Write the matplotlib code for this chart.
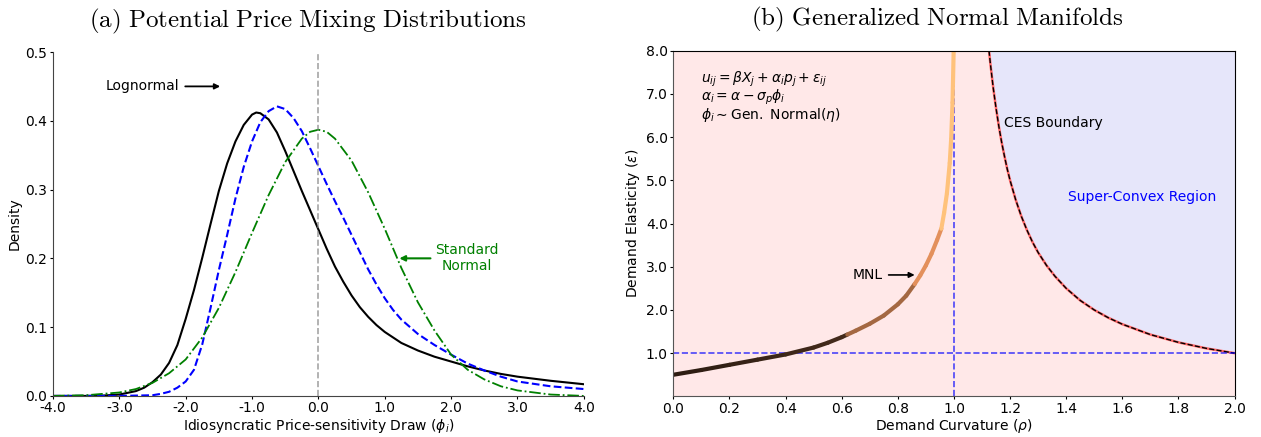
import matplotlib
matplotlib.use("Agg")
import matplotlib.pyplot as plt
import numpy as np
from matplotlib.collections import LineCollection

# ---- panel (a): mixing densities ----
logn_x = [-4.0, -3.5, -3.25, -3.0, -2.75, -2.625, -2.5, -2.375, -2.25, -2.125, -2.0, -1.875,
          -1.75, -1.625, -1.5, -1.375, -1.25, -1.125, -1.0, -0.9375, -0.875, -0.75, -0.625,
          -0.5, -0.375, -0.25, -0.125, 0.0, 0.125, 0.25, 0.375, 0.5, 0.625, 0.75, 0.875, 1.0,
          1.25, 1.5, 1.75, 2.0, 2.25, 2.5, 2.75, 3.0, 3.5, 4.0]
logn_y = [0.000, 0.000, 0.0005, 0.002, 0.007, 0.012, 0.020, 0.031, 0.048, 0.074, 0.112, 0.154,
          0.201, 0.250, 0.298, 0.338, 0.370, 0.394, 0.409, 0.412, 0.411, 0.402, 0.383,
          0.356, 0.327, 0.298, 0.270, 0.242, 0.214, 0.188, 0.166, 0.146, 0.129, 0.115, 0.103,
          0.093, 0.077, 0.066, 0.057, 0.050, 0.043, 0.037, 0.032, 0.028, 0.022, 0.017]

gen_x = [-4.0, -3.0, -2.5, -2.375, -2.25, -2.125, -2.0, -1.875, -1.75, -1.625, -1.5, -1.375,
         -1.25, -1.125, -1.0, -0.875, -0.75, -0.625, -0.5, -0.375, -0.25, -0.125, 0.0, 0.125,
         0.25, 0.375, 0.5, 0.625, 0.75, 0.875, 1.0, 1.125, 1.25, 1.5, 1.75, 2.0, 2.25, 2.5,
         2.75, 3.0, 3.5, 4.0]
gen_y = [0.000, 0.000, 0.001, 0.003, 0.006, 0.012, 0.021, 0.038, 0.075, 0.128, 0.183, 0.234,
         0.287, 0.333, 0.370, 0.398, 0.414, 0.421, 0.417, 0.404, 0.385, 0.360, 0.334, 0.308,
         0.283, 0.259, 0.234, 0.209, 0.184, 0.162, 0.142, 0.125, 0.111, 0.090, 0.074, 0.060,
         0.047, 0.037, 0.028, 0.021, 0.014, 0.010]

norm_x = [-4.0, -3.5, -3.0, -2.75, -2.5, -2.25, -2.0, -1.75, -1.5, -1.25, -1.0, -0.75, -0.5,
          -0.25, -0.125, 0.0, 0.125, 0.25, 0.5, 0.75, 1.0, 1.25, 1.5, 1.75, 2.0, 2.25, 2.5,
          2.75, 3.0, 3.5, 4.0]
norm_y = [0.000, 0.001, 0.005, 0.010, 0.019, 0.033, 0.053, 0.085, 0.128, 0.180, 0.237, 0.292,
          0.340, 0.374, 0.384, 0.387, 0.384, 0.374, 0.342, 0.296, 0.243, 0.186, 0.136, 0.095,
          0.060, 0.038, 0.024, 0.014, 0.008, 0.002, 0.000]

a_xticks = [-4.0, -3.0, -2.0, -1.0, 0.0, 1.0, 2.0, 3.0, 4.0]
a_yticks = [0.0, 0.1, 0.2, 0.3, 0.4, 0.5]

# ---- panel (b): manifolds ----
mnl_rho = [0.0, 0.1, 0.2, 0.3, 0.4, 0.5, 0.55, 0.6, 0.62, 0.65, 0.7, 0.75, 0.8, 0.83, 0.86,
           0.88, 0.9, 0.92, 0.94, 0.955, 0.965, 0.975, 0.985, 0.99, 0.995, 0.999]
mnl_eps = [0.50, 0.61, 0.73, 0.85, 0.97, 1.13, 1.24, 1.37, 1.43, 1.52, 1.68, 1.87, 2.13, 2.33,
           2.60, 2.80, 3.03, 3.30, 3.62, 3.88, 4.25, 4.70, 5.40, 5.95, 6.80, 8.0]
# colour bands along the MNL curve (upper rho of each band, copper level)
band_top = [0.62, 0.86, 0.955, 1.0]
band_level = [0.22, 0.52, 0.72, 0.97]

ces_rho = [1.125, 1.13, 1.14, 1.15, 1.16, 1.17, 1.18, 1.19, 1.2, 1.22, 1.24, 1.26, 1.28, 1.3,
           1.33, 1.36, 1.4, 1.45, 1.5, 1.55, 1.6, 1.7, 1.8, 1.9, 2.0]
ces_eps = [8.0, 7.69, 7.14, 6.67, 6.25, 5.88, 5.56, 5.26, 5.0, 4.55, 4.17, 3.85, 3.57, 3.33,
           3.03, 2.78, 2.5, 2.22, 2.0, 1.82, 1.67, 1.43, 1.25, 1.11, 1.0]

b_xticks = [0.0, 0.2, 0.4, 0.6, 0.8, 1.0, 1.2, 1.4, 1.6, 1.8, 2.0]
b_yticks = [1.0, 2.0, 3.0, 4.0, 5.0, 6.0, 7.0, 8.0]

fig = plt.figure(figsize=(12.61, 4.37), dpi=100)
ax1 = fig.add_axes([0.042, 0.094, 0.421, 0.787])
ax2 = fig.add_axes([0.534, 0.093, 0.445, 0.791])

# (a)
ax1.plot(logn_x, logn_y, color='black', lw=1.5)
ax1.plot(gen_x, gen_y, color='blue', lw=1.5, ls='--')
ax1.plot(norm_x, norm_y, color='green', lw=1.3, ls='-.')
ax1.axvline(0, color='gray', alpha=0.7, ls='--', lw=1.2)
ax1.set_xlim(-4, 4)
ax1.set_ylim(0, 0.5)
ax1.set_xticks(a_xticks)
ax1.set_xticklabels([f'{v:.1f}' for v in a_xticks])
ax1.set_yticks(a_yticks)
ax1.set_yticklabels([f'{v:.1f}' for v in a_yticks])
ax1.tick_params(labelsize=10, length=2, pad=2)
ax1.spines['top'].set_visible(False)
ax1.spines['right'].set_visible(False)
for s in ['left', 'bottom']:
    ax1.spines[s].set_color('#444444')
ax1.set_xlabel(r'Idiosyncratic Price-sensitivity Draw ($\phi_i$)', fontsize=10, labelpad=1)
ax1.set_ylabel('Density', fontsize=10, labelpad=3)
ax1.annotate('Lognormal', xy=(-1.48, 0.45), xytext=(-3.2, 0.45), fontsize=10,
             ha='left', va='center',
             arrowprops=dict(arrowstyle='-|>', color='black', lw=1.3, shrinkA=2, shrinkB=0,
                             mutation_scale=8))
ax1.annotate('Standard\nNormal', xy=(1.22, 0.2), xytext=(2.23, 0.2), fontsize=10,
             color='green', ha='center', va='center', multialignment='center',
             arrowprops=dict(arrowstyle='-|>', color='green', lw=1.5, shrinkA=1, shrinkB=0,
                             mutation_scale=8))
ax1.set_title(r'$\mathrm{(a)\ Potential\ Price\ Mixing\ Distributions}$', fontsize=18,
              math_fontfamily='cm', pad=18, x=0.48)

# (b)
ax2.set_facecolor('#ffe8e8')
ax2.fill_between(ces_rho, ces_eps, 8.0, color='#e6e6fa', lw=0)
ax2.plot(ces_rho, ces_eps, color='#ff6666', lw=1.8)
ax2.plot(ces_rho, ces_eps, color='black', lw=1.0, ls='--')
ax2.axvline(1.0, color='blue', alpha=0.7, ls='--', lw=1.2)
ax2.axhline(1.0, color='blue', alpha=0.7, ls='--', lw=1.2)

pts = np.column_stack([mnl_rho, mnl_eps])
segs = np.stack([pts[:-1], pts[1:]], axis=1)
mids = (pts[:-1, 0] + pts[1:, 0]) / 2
band = np.searchsorted(band_top, mids)
shade = np.array(band_level)[band]
dark = band == 0
shade[dark] = 0.14 + (band_level[0] - 0.14) * mids[dark] / band_top[0]
lc = LineCollection(segs, colors=plt.cm.copper(shade), lw=3, capstyle='round')
ax2.add_collection(lc)

ax2.set_xlim(0, 2)
ax2.set_ylim(0, 8)
ax2.set_xticks(b_xticks)
ax2.set_xticklabels([f'{v:.1f}' for v in b_xticks])
ax2.set_yticks(b_yticks)
ax2.set_yticklabels([f'{v:.1f}' for v in b_yticks])
ax2.tick_params(labelsize=10, length=2, pad=2)
for s in ['left', 'bottom']:
    ax2.spines[s].set_color('#555555')
ax2.set_xlabel(r'Demand Curvature ($\rho$)', fontsize=10, labelpad=1)
ax2.set_ylabel(r'Demand Elasticity ($\varepsilon$)', fontsize=10, labelpad=3)
ax2.text(0.1, 7.34, r'$u_{ij} = \beta X_j + \alpha_i p_j + \varepsilon_{ij}$',
         fontsize=10, ha='left', va='center')
ax2.text(0.1, 6.92, r'$\alpha_i = \alpha - \sigma_p \phi_i$',
         fontsize=10, ha='left', va='center')
ax2.text(0.1, 6.51, r'$\phi_i \sim \mathrm{Gen.\ Normal}(\eta)$',
         fontsize=10, ha='left', va='center')
ax2.text(1.18, 6.32, 'CES Boundary', fontsize=10, ha='left', va='center')
ax2.text(1.67, 4.62, 'Super-Convex Region', fontsize=10, color='blue', ha='center', va='center')
ax2.annotate('MNL', xy=(0.86, 2.81), xytext=(0.64, 2.81), fontsize=10, ha='left', va='center',
             arrowprops=dict(arrowstyle='-|>', color='black', lw=1.2, shrinkA=2, shrinkB=0,
                             mutation_scale=8))
ax2.set_title(r'$\mathrm{(b)\ Generalized\ Normal\ Manifolds}$', fontsize=18,
              math_fontfamily='cm', pad=18, x=0.47)

fig.savefig('out.png', dpi=100)
